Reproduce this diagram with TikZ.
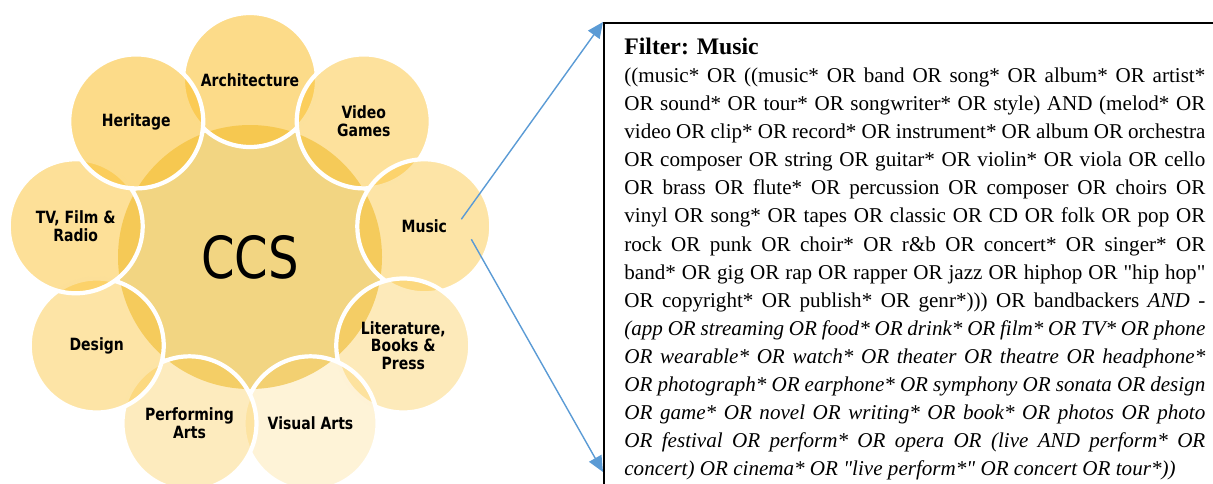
\documentclass[tikz,border=0pt]{standalone}
\usepackage{fontspec}
\setmainfont{Liberation Serif}[Ligatures=TeXOff]
\newfontfamily\labelfont{DejaVu Sans}[FakeStretch=0.83]
\usetikzlibrary{arrows.meta}

\definecolor{ccsfill}{RGB}{242,213,130}
\definecolor{petal}{RGB}{250,190,40}
\definecolor{linkblue}{RGB}{91,155,213}

\newlength\filterw
\setlength\filterw{11.62cm}
\newcommand\filterline[1]{\makebox[\filterw][s]{#1}\par}

\tikzset{
  hub/.style={circle, fill=ccsfill, minimum size=5.28cm, inner sep=0pt,
    font=\labelfont\fontsize{33}{33}\selectfont},
  petalnode/.style={circle, draw=white, line width=2.4pt, fill=petal,
    minimum size=2.68cm, inner sep=0pt, align=center, text opacity=1,
    font=\labelfont\bfseries\fontsize{9.6}{10}\selectfont},
  link/.style={draw=linkblue, line width=0.8pt,
    -{Triangle[length=9pt,width=8pt]}},
  frame/.style={draw, line width=1.1pt, minimum width=13cm,
    minimum height=10cm, anchor=north west},
  filtertext/.style={anchor=north west, inner sep=0pt}
}

\begin{document}
\begin{tikzpicture}

  \useasboundingbox (0,0) rectangle (24.26,9.66);
  \clip (0,0) rectangle (24.26,9.66);

  % the sectors round the hub, drawn clockwise from the top
  \node[hub] (ccs) at ({5.0}, {4.52}) {CCS};
  \foreach \ang/\nm/\txt/\op in
    {
        90/arch/Architecture/0.55,
        50/vgames/{Video\\Games}/0.46,
        10/music/Music/0.41,
        -30/lit/{Literature,\\Books \&\\Press}/0.32,
        -70/visual/{Visual Arts}/0.19,
        -110/perf/{Performing\\Arts}/0.3,
        -150/design/Design/0.41,
        -190/tv/{TV, Film \&\\Radio}/0.48,
        -230/heritage/Heritage/0.55
    }
    {
        \node[petalnode, fill opacity=\op] (\nm)
          at ({5.0+3.54*cos(\ang)}, {4.52+3.54*sin(\ang)}) {\txt};
    }

  % the box with the filter of one sector
  \node[frame] (filter) at ({12.06}, {9.22}) {};
  \coordinate (filterfoot) at ([yshift=-9.0cm]filter.north west);
  \node[filtertext] (filterbody) at ({12.48}, {8.9}) {\parbox[t]{\filterw}{%
    \fontsize{12}{15.95}\selectfont
    {\fontsize{13.5}{15.95}\selectfont\bfseries Filter: Music}\par
    \filterline{((music* OR ((music* OR band OR song* OR album* OR artist*}
    \filterline{OR sound* OR tour* OR songwriter* OR style) AND (melod* OR}
    \filterline{video OR clip* OR record* OR instrument* OR album OR orchestra}
    \filterline{OR composer OR string OR guitar* OR violin* OR viola OR cello}
    \filterline{OR brass OR flute* OR percussion OR composer OR choirs OR}
    \filterline{vinyl OR song* OR tapes OR classic OR CD OR folk OR pop OR}
    \filterline{rock OR punk OR choir* OR r\&b OR concert* OR singer* OR}
    \filterline{band* OR gig OR rap OR rapper OR jazz OR hiphop OR "hip hop"}
    \filterline{OR copyright* OR publish* OR genr*))) OR bandbackers \textit{AND -}}
    \itshape
    \filterline{(app OR streaming OR food* OR drink* OR film* OR TV* OR phone}
    \filterline{OR wearable* OR watch* OR theater OR theatre OR headphone*}
    \filterline{OR photograph* OR earphone* OR symphony OR sonata OR design}
    \filterline{OR game* OR novel OR writing* OR book* OR photos OR photo}
    \filterline{OR festival OR perform* OR opera OR (live AND perform* OR}
    concert) OR cinema* OR "live perform*" OR concert OR tour*))}};

  \coordinate (musicA) at ([shift={(0.74,0.14)}]music.center);
  \coordinate (musicB) at ([shift={(0.94,-0.26)}]music.center);
  \draw[link] (musicA) -- (filter.north west);
  \draw[link] (musicB) -- (filterfoot);

\end{tikzpicture}
\end{document}
